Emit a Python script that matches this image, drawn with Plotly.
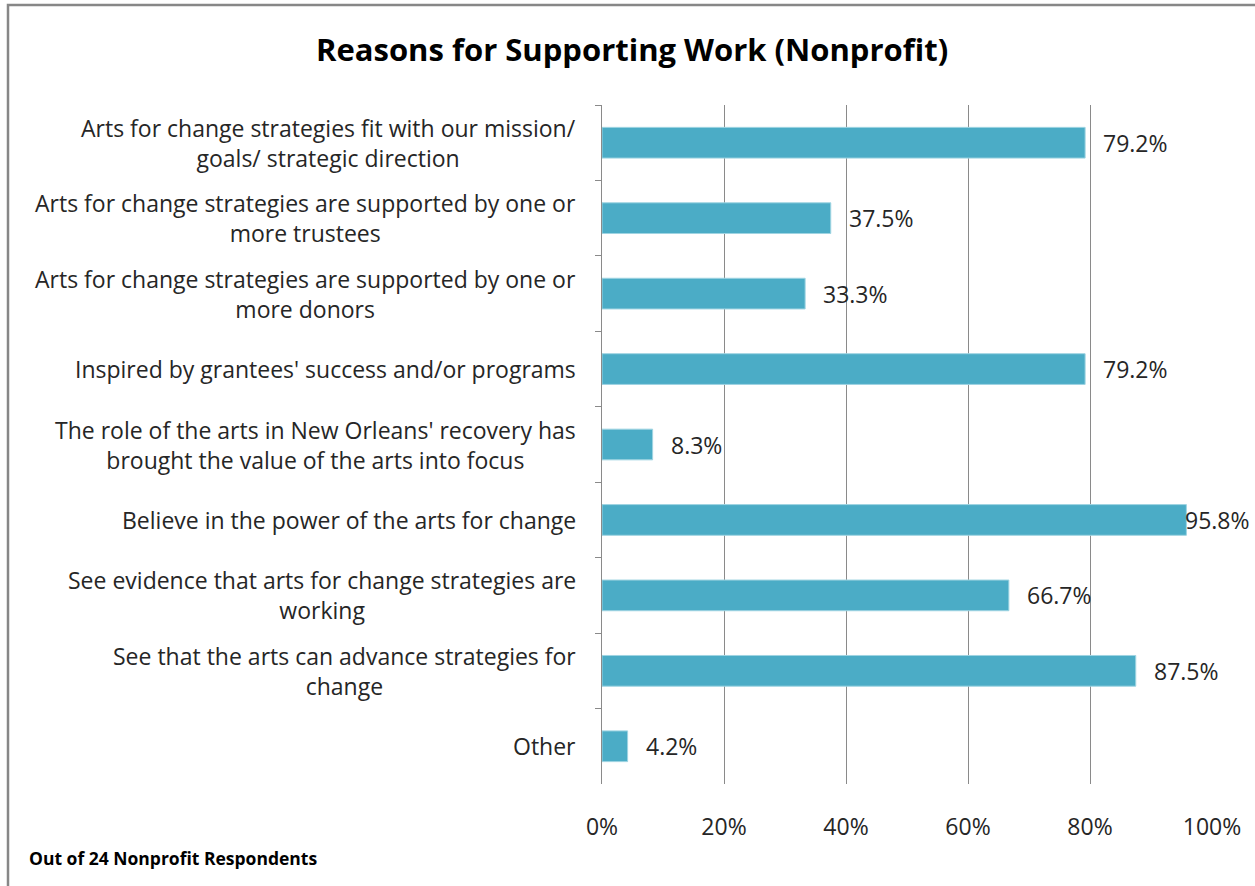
import plotly.graph_objects as go

# Survey results: share of 24 nonprofit respondents citing each reason
categories = [
    "Arts for change strategies fit with our mission/<br>goals/ strategic direction",
    "Arts for change strategies are supported by one or<br>more trustees",
    "Arts for change strategies are supported by one or<br>more donors",
    "Inspired by grantees' success and/or programs",
    "The role of the arts in New Orleans' recovery has<br>brought the value of the arts into focus",
    "Believe in the power of the arts for change",
    "See evidence that arts for change strategies are<br>working",
    "See that the arts can advance strategies for<br>change",
    "Other",
]
percent_values = [79.2, 37.5, 33.3, 79.2, 8.3, 95.8, 66.7, 87.5, 4.2]
x_tick_values = [0, 20, 40, 60, 80, 100]
x_tick_labels = ["0%", "20%", "40%", "60%", "80%", "100%"]

title_text = "Reasons for Supporting Work (Nonprofit)"
footnote_text = "Out of 24 Nonprofit Respondents"

# Page geometry (pixels)
W, H = 1255, 886
ML, MR, MT, MB = 602, 43, 105, 102
plot_w = W - ML - MR
plot_h = H - MT - MB

FONT = "Open Sans"
TEXT_COLOR = "#262626"
GRID_COLOR = "#8a8a8a"
BAR_COLOR = "#4BACC6"
LABEL_SIZE = 23


def px_to_paper_x(px):
    return (px - ML) / plot_w


def px_to_paper_y(py):
    return (H - MB - py) / plot_h


fig = go.Figure()
fig.add_trace(
    go.Bar(
        x=percent_values,
        y=categories,
        orientation="h",
        marker=dict(color=BAR_COLOR, line=dict(color="#9fd4e2", width=1)),
        hoverinfo="skip",
    )
)

annotations = []

# Category labels: right aligned block, lines centered within it
for cat in categories:
    annotations.append(
        dict(
            x=px_to_paper_x(578), xref="paper", y=cat, yref="y",
            text=cat, showarrow=False, xanchor="right", yanchor="middle",
            align="center", font=dict(family=FONT, size=LABEL_SIZE, color=TEXT_COLOR),
        )
    )

# Value labels beside each bar, kept inside the chart frame
label_w = 67
right_limit = 1250
for cat, v in zip(categories, percent_values):
    bar_end = ML + v / 100 * plot_w
    start = min(bar_end + 16, right_limit - label_w)
    annotations.append(
        dict(
            x=px_to_paper_x(start), xref="paper", y=cat, yref="y",
            text=f"{v:.1f}%", showarrow=False, xanchor="left", yanchor="middle",
            font=dict(family=FONT, size=LABEL_SIZE, color=TEXT_COLOR),
        )
    )

# Title and footnote
annotations.append(
    dict(
        x=px_to_paper_x(632), xref="paper", y=px_to_paper_y(49), yref="paper",
        text=f"<b>{title_text}</b>", showarrow=False, xanchor="center", yanchor="middle",
        font=dict(family=FONT, size=31, color="#000000"),
    )
)
annotations.append(
    dict(
        x=px_to_paper_x(27), xref="paper", y=px_to_paper_y(858), yref="paper",
        text=f"<b>{footnote_text}</b>", showarrow=False, xanchor="left", yanchor="middle",
        font=dict(family=FONT, size=17.5, color="#000000"),
    )
)

# Chart frame (left and top edges visible)
shapes = [
    dict(
        type="path", xref="paper", yref="paper",
        path=(
            f"M {px_to_paper_x(8)},{px_to_paper_y(H + 10)} "
            f"L {px_to_paper_x(8)},{px_to_paper_y(5)} "
            f"L {px_to_paper_x(W + 10)},{px_to_paper_y(5)}"
        ),
        line=dict(color="#878787", width=2.5),
    )
]

fig.update_layout(
    width=W, height=H,
    margin=dict(l=ML, r=MR, t=MT, b=MB),
    paper_bgcolor="white", plot_bgcolor="white",
    showlegend=False,
    bargap=0.593,
    annotations=annotations,
    shapes=shapes,
    xaxis=dict(
        range=[0, 100],
        tickvals=x_tick_values, ticktext=x_tick_labels,
        showgrid=True, gridcolor=GRID_COLOR, gridwidth=1,
        zeroline=False, showline=False,
        ticks="", ticklabelstandoff=27,
        tickfont=dict(family=FONT, size=LABEL_SIZE, color=TEXT_COLOR),
        fixedrange=True,
    ),
    yaxis=dict(
        type="category", autorange="reversed",
        showticklabels=False,
        showline=True, linecolor=GRID_COLOR, linewidth=1,
        ticks="outside", tickson="boundaries", ticklen=6, tickcolor=GRID_COLOR,
        showgrid=False, zeroline=False, fixedrange=True,
    ),
)

fig.write_html("out.html")
